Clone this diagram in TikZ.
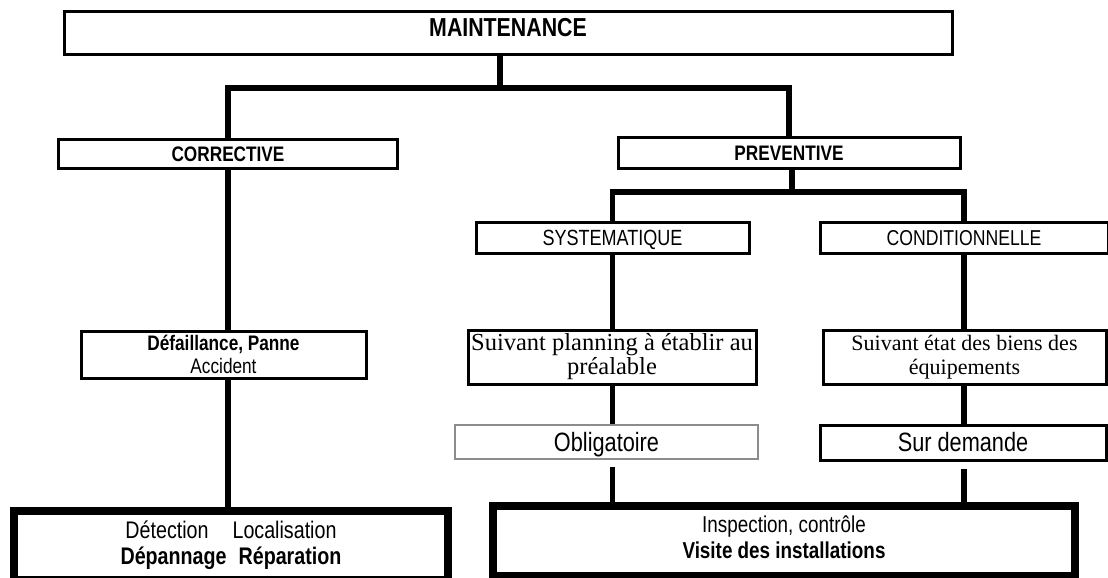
\documentclass[tikz,border=0pt]{standalone}
\usepackage{fontspec}
\newfontfamily\narrowfont{Liberation Sans}[FakeStretch=0.82]
\newfontfamily\timesfont{Liberation Serif}
\usepackage{tikz}

\begin{document}
\begin{tikzpicture}[
  x=1pt, y=-1pt,
  box/.style={draw, line width=3pt, inner sep=0pt, align=center,
              font=\narrowfont\fontsize{21}{23}\selectfont},
  headbox/.style={box, font=\narrowfont\bfseries\fontsize{21}{23}\selectfont,
                  text height=15pt, text depth=0pt},
  subbox/.style={box, text height=15pt, text depth=0pt},
  notebox/.style={box, font=\timesfont\fontsize{24.5}{24}\selectfont},
  typebox/.style={box, font=\narrowfont\fontsize{26.5}{30}\selectfont,
                  text height=18pt, text depth=0pt},
  workbox/.style={box, line width=8pt, font=\narrowfont\fontsize{24}{26}\selectfont},
  link/.style={line width=5.5pt},
]
  \path[fill=white, use as bounding box] (0,0) rectangle (1108,578);

  % Nodes
  \node[headbox, minimum width=888pt, minimum height=43pt, font=\narrowfont\bfseries\fontsize{26}{30}\selectfont,
        text height=19pt, text depth=12pt] (maint) at (508,33.5) {MAINTENANCE};
  \node[headbox, minimum width=339pt, minimum height=29pt] (corr) at (228,153.5) {CORRECTIVE};
  \node[headbox, minimum width=342pt, minimum height=31pt] (prev) at (789,152.5) {PREVENTIVE};
  \node[subbox, minimum width=273pt, minimum height=31pt, font=\narrowfont\fontsize{22}{24}\selectfont]
    (syst) at (612.5,237.5) {SYSTEMATIQUE};
  \node[subbox, minimum width=288pt, minimum height=31pt, font=\narrowfont\fontsize{21.5}{24}\selectfont]
    (cond) at (964,237.5) {CONDITIONNELLE};
  \node[box, minimum width=285pt, minimum height=47pt] (fail) at (223.5,354.5)
    {\bfseries Défaillance, Panne\\Accident};
  \node[notebox, minimum width=288pt, minimum height=54pt] (plan) at (612,357)
    {Suivant planning à établir au\\préalable};
  \node[notebox, minimum width=283pt, minimum height=54pt, font=\timesfont\fontsize{22}{24}\selectfont]
    (etat) at (964.5,357) {Suivant état des biens des\\équipements};
  \node[typebox, minimum width=303pt, minimum height=34pt, line width=1.2pt, draw=black!45]
    (oblig) at (606.5,442) {Obligatoire};
  \node[typebox, minimum width=286pt, minimum height=35pt] (dem) at (963,442.5) {Sur demande};
  \node[workbox, minimum width=434pt, minimum height=69pt] (repar) at (231,545.5)
    {Détection\quad Localisation\\\bfseries Dépannage\enspace Réparation};
  \node[workbox, minimum width=582pt, minimum height=70pt, text depth=7pt,
        font=\narrowfont\fontsize{23}{26}\selectfont]
    (visit) at (784,541) {Inspection, contrôle\\\bfseries Visite des installations};

  % Tree
  \coordinate (top)  at (500,88);
  \coordinate (fork) at (792,192);
  \draw[link] (maint.south -| top) -- (top);
  \draw[link] (corr.north) |- (top) -| (prev.north);
  \draw[link] (prev.south -| fork) -- (fork);
  \draw[link] (syst.north) |- (fork) -| (cond.north);

  % Columns
  \draw[link] (corr.south) -- (corr.south |- fail.north);
  \draw[link] (corr.south |- fail.south) -- (corr.south |- repar.north);
  \draw[link] (syst.south) -- (syst.south |- plan.north);
  \draw[link] (syst.south |- plan.south) -- (syst.south |- oblig.north);
  \draw[link, shorten <=7pt] (syst.south |- oblig.south) -- (syst.south |- visit.north);
  \draw[link] (cond.south) -- (cond.south |- etat.north);
  \draw[link] (cond.south |- etat.south) -- (cond.south |- dem.north);
  \draw[link, shorten <=7pt] (cond.south |- dem.south) -- (cond.south |- visit.north);
\end{tikzpicture}
\end{document}
